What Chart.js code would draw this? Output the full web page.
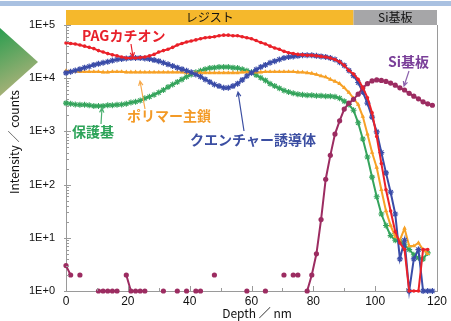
<!DOCTYPE html>
<html>
<head>
<meta charset="utf-8">
<script src="https://cdn.jsdelivr.net/npm/chart.js"></script>
<style>
  body { margin: 0; background: #fff; }
  canvas { display: block; }
</style>
</head>
<body>
<canvas id="depthChart" width="451" height="321"></canvas>
<script>
// depth (nm) – shared x positions for all series
const depth = [
  0, 1.5, 3, 4.5, 6, 7.5, 9, 10.5, 12, 13.5,
  15, 16.5, 18, 19.5, 21, 22.5, 24, 25.5, 27, 28.5,
  30, 31.5, 33, 34.5, 36, 37.5, 39, 40.5, 42, 43.5,
  45, 46.5, 48, 49.5, 51, 52.5, 54, 55.5, 57, 58.5,
  60, 61.5, 63, 64.5, 66, 67.5, 69, 70.5, 72, 73.5,
  75, 76.5, 78, 79.5, 81, 82.5, 84, 85.5, 87, 88.5,
  90, 91.5, 93, 94.5, 96, 97.5, 99, 100.5, 102, 103.5,
  105, 106.5, 108, 109.5, 111, 112.5, 114, 115.5, 117, 118.5
];

const pagCation = [
  46000, 45000, 44000, 42000, 40000, 38000, 36000, 33000, 31000, 29000,
  27500, 26300, 25000, 24000, 24000, 24000, 24500, 25000, 26300, 28000,
  31000, 33000, 35000, 38000, 42000, 45000, 48000, 50000, 52500, 55000,
  57500, 59000, 60000, 63000, 64500, 64500, 63000, 63000, 60000, 57500,
  55000, 51000, 47000, 44000, 40000, 37000, 35000, 32000, 30000, 29000,
  28000, 27500, 27000, 27000, 26300, 25700, 25000, 24000, 22400, 20400,
  17400, 14000, 12000, 9500, 6600, 4300, 2240, 800, 250, 80,
  32, 13, 8, 6, 1, 1, 1, 6, 6, null
];

const quencher = [
  12600, 13200, 14000, 14800, 15800, 16600, 17800, 18600, 19500, 20400,
  21400, 22400, 23000, 23400, 24000, 24000, 24000, 23400, 23000, 21900,
  20900, 19500, 18200, 17000, 15800, 14800, 13800, 12900, 11700, 10700,
  9500, 8500, 7600, 7100, 6600, 6600, 7100, 7900, 9300, 11000,
  12600, 14500, 16200, 17800, 19500, 20900, 22400, 24000, 25000, 25700,
  26300, 27000, 27000, 27000, 26300, 25700, 25000, 24000, 22400, 20000,
  17400, 14000, 11200, 8300, 5500, 3400, 1860, 980, 400, 166,
  72, 28, 4, 9, 1, 4, 6, 1, 1, 1
];

const polymer = [
  13800, 13500, 13500, 13200, 13200, 13200, 13200, 13200, 13000, 13000,
  13200, 13200, 13200, 13000, 13000, 13000, 13000, 12900, 12900, 12900,
  12900, 12900, 12900, 12900, 12900, 12900, 12600, 12600, 12600, 12600,
  12600, 12600, 12600, 12600, 12600, 12600, 12600, 12600, 12900, 12900,
  12900, 12900, 13000, 13200, 13200, 13200, 13200, 13200, 13200, 13200,
  13000, 12900, 12600, 12300, 11700, 11000, 10500, 9500, 8700, 7900,
  6600, 5400, 4200, 3200, 1900, 890, 400, 210, 80, 32,
  17, 10.5, 9, 15, 7, 7, 8, 6, 5, null
];

const protecting = [
  3400, 3300, 3200, 3160, 3160, 3100, 3000, 3000, 3000, 3100,
  3100, 3160, 3200, 3300, 3500, 3600, 3800, 4200, 4500, 4900,
  5400, 6000, 6800, 7600, 8500, 9500, 10700, 11700, 12900, 13800,
  14800, 15500, 15800, 16200, 16200, 16200, 15800, 15500, 14800, 13800,
  12900, 11500, 10200, 9100, 7900, 7100, 6500, 5900, 5500, 5200,
  5000, 4900, 4800, 4800, 4700, 4700, 4600, 4600, 4500, 4200,
  3700, 3200, 2500, 1450, 720, 330, 138, 59, 28, 17,
  11, 9, 8.5, 7.4, 6, 4.8, 4.2, 4, 5.2, null
];

// Si: zero counts are left empty (log axis)
const siSubstrate = [
  3, 2, null, 2, null, null, null, 1, 1, 1,
  1, 1, null, 2, 1, 1, 1, 1, null, null,
  null, 1, null, null, 1, null, 1, null, 1, 1,
  null, null, 2, null, null, null, null, null, null, 1,
  null, null, null, 1, null, null, null, 2, null, 2,
  2, null, 1, 2, 5, 22, 126, 355, 890, 1580,
  2630, 3400, 4000, 5000, 6600, 7900, 8900, 9300, 9100, 8700,
  8100, 7400, 6600, 6000, 5200, 4600, 4100, 3600, 3300, 3100
];

const yTicks = [1, 10, 100, 1000, 10000, 100000];
const yTickLabels = ["1E+0", "1E+1", "1E+2", "1E+3", "1E+4", "1E+5"];

// top band: layer names and depth ranges
const bandNames = ["レジスト", "Si基板"];
const bandRanges = [[0, 93], [93, 120]];

const toXY = arr => arr.map((v, i) => ({ x: depth[i], y: v }));

function arrow(ctx, x1, y1, x2, y2, color) {
    const a = Math.atan2(y2 - y1, x2 - x1);
    ctx.save();
    ctx.strokeStyle = color;
    ctx.lineWidth = 1.2;
    ctx.beginPath();
    ctx.moveTo(x1, y1);
    ctx.lineTo(x2, y2);
    ctx.moveTo(x2 - 5 * Math.cos(a - 0.45), y2 - 5 * Math.sin(a - 0.45));
    ctx.lineTo(x2, y2);
    ctx.lineTo(x2 - 5 * Math.cos(a + 0.45), y2 - 5 * Math.sin(a + 0.45));
    ctx.stroke();
    ctx.restore();
}

const decor = {
    id: "decor",
    beforeDraw(chart) {
        const ctx = chart.ctx;
        ctx.save();
        // slide strip on top
        ctx.fillStyle = "#a9c1e1";
        ctx.fillRect(0, 1, 451, 5);
        // green triangle at the left
        const g = ctx.createLinearGradient(0, 28, 34, 92);
        g.addColorStop(0, "#2a9d4f");
        g.addColorStop(1, "#bdb57f");
        ctx.fillStyle = g;
        ctx.beginPath();
        ctx.moveTo(0, 28);
        ctx.lineTo(38, 62);
        ctx.lineTo(0, 96);
        ctx.closePath();
        ctx.fill();
        ctx.restore();
    },
    afterDraw(chart) {
        const ctx = chart.ctx;
        const xs = chart.scales.x, ys = chart.scales.y;
        const area = chart.chartArea;
        ctx.save();

        // band above the plot
        const bandColors = ["#f5b82c", "#a6a6a8"];
        bandRanges.forEach((r, i) => {
            const x1 = xs.getPixelForValue(r[0]), x2 = xs.getPixelForValue(r[1]);
            ctx.fillStyle = bandColors[i];
            ctx.fillRect(x1, 10, x2 - x1, area.top - 10);
            ctx.fillStyle = "#111";
            ctx.font = "12px 'Noto Sans CJK JP'";
            ctx.textAlign = "center";
            ctx.textBaseline = "middle";
            ctx.fillText(bandNames[i], (x1 + x2) / 2, 17.5);
        });

        // right frame line
        ctx.strokeStyle = "#9a9a9a";
        ctx.lineWidth = 1;
        ctx.beginPath();
        ctx.moveTo(area.right + 0.5, area.top);
        ctx.lineTo(area.right + 0.5, area.bottom);
        ctx.stroke();

        // inner ticks
        ctx.beginPath();
        for (let d = 0; d <= 4; d++) {
            for (let k = 2; k <= 9; k++) {
                const y = Math.round(ys.getPixelForValue(k * Math.pow(10, d))) + 0.5;
                ctx.moveTo(area.left, y);
                ctx.lineTo(area.left + 3, y);
            }
        }
        yTicks.forEach(v => {
            const y = Math.round(ys.getPixelForValue(v)) + 0.5;
            ctx.moveTo(area.left - 2, y);
            ctx.lineTo(area.left + 5, y);
        });
        for (let v = 10; v < 120; v += 10) {
            const x = Math.round(xs.getPixelForValue(v)) + 0.5;
            ctx.moveTo(x, area.bottom);
            ctx.lineTo(x, area.bottom - (v % 20 === 0 ? 5 : 3));
        }
        ctx.stroke();

        // axis titles
        ctx.fillStyle = "#111";
        ctx.font = "12px 'Noto Sans CJK JP'";
        ctx.textAlign = "center";
        ctx.textBaseline = "middle";
        ctx.fillText("Depth ／ nm", 257, 313);
        ctx.save();
        ctx.translate(14, 142);
        ctx.rotate(-Math.PI / 2);
        ctx.fillText("Intensity ／ counts", 0, 0);
        ctx.restore();

        // series labels
        ctx.textAlign = "left";
        ctx.font = "bold 14px 'Noto Sans CJK JP'";
        const labels = [
            ["PAGカチオン", 82, 36, "#e8212b"],
            ["ポリマー主鎖", 127, 116, "#f39a26"],
            ["保護基", 72, 132, "#2ea45a"],
            ["クエンチャー誘導体", 190, 140, "#3b4ea2"],
            ["Si基板", 388, 62, "#7a3f99"]
        ];
        labels.forEach(l => {
            ctx.fillStyle = l[3];
            ctx.fillText(l[0], l[1], l[2]);
        });
        arrow(ctx, 131, 44, 133, 57, "#e8212b");
        arrow(ctx, 145, 109, 140, 81, "#f7a94a");
        arrow(ctx, 101, 124, 102, 108, "#4cb070");
        arrow(ctx, 244, 131, 238, 92, "#3b4ea2");
        arrow(ctx, 409, 71, 404, 86, "#8c62ad");
        ctx.restore();
    }
};

const common = { borderWidth: 2, tension: 0, clip: false, spanGaps: false };

new Chart(document.getElementById("depthChart").getContext("2d"), {
    type: "line",
    data: {
        datasets: [
            Object.assign({ label: "PAGカチオン", data: toXY(pagCation), borderColor: "#ea2129",
                backgroundColor: "#ea2129", pointStyle: "circle", pointRadius: 1.8, pointBorderWidth: 0 }, common),
            Object.assign({ label: "Si基板", data: toXY(siSubstrate), borderColor: "#9c2c61",
                backgroundColor: "#9c2c61", pointStyle: "circle", pointRadius: 2.6, pointBorderWidth: 0 }, common),
            Object.assign({ label: "クエンチャー誘導体", data: toXY(quencher), borderColor: "#3a4ca8",
                backgroundColor: "#3a4ca8", pointStyle: "star", pointRadius: 3, pointBorderWidth: 1.2 }, common),
            Object.assign({ label: "ポリマー主鎖", data: toXY(polymer), borderColor: "#f7a127",
                backgroundColor: "#f7a127", pointStyle: "triangle", pointRadius: 2.6, pointBorderWidth: 0 }, common),
            Object.assign({ label: "保護基", data: toXY(protecting), borderColor: "#35a45c",
                backgroundColor: "#35a45c", pointStyle: "star", pointRadius: 3, pointBorderWidth: 1.1 }, common)
        ]
    },
    options: {
        responsive: false,
        animation: false,
        layout: { padding: { top: 25, right: 14, left: 0, bottom: 0 } },
        plugins: { legend: { display: false }, tooltip: { enabled: false } },
        scales: {
            x: {
                type: "linear",
                min: 0,
                max: 120,
                ticks: { stepSize: 20, maxRotation: 0, padding: 3, color: "#111",
                    font: { family: "'Liberation Sans', Arial", size: 12 } },
                grid: { display: false, drawTicks: false },
                border: { color: "#9a9a9a", width: 1 },
                afterFit(s) { s.height = 30; }
            },
            y: {
                type: "logarithmic",
                min: 1,
                max: 100000,
                afterBuildTicks(s) { s.ticks = yTicks.map(v => ({ value: v })); },
                ticks: { padding: 11, color: "#111", autoSkip: false,
                    font: { family: "'Liberation Sans', Arial", size: 11 },
                    callback: (v, i) => yTickLabels[i] },
                grid: { display: false, drawTicks: false },
                border: { color: "#9a9a9a", width: 1 },
                afterFit(s) { s.width = 66; }
            }
        }
    },
    plugins: [decor]
});
</script>
</body>
</html>
